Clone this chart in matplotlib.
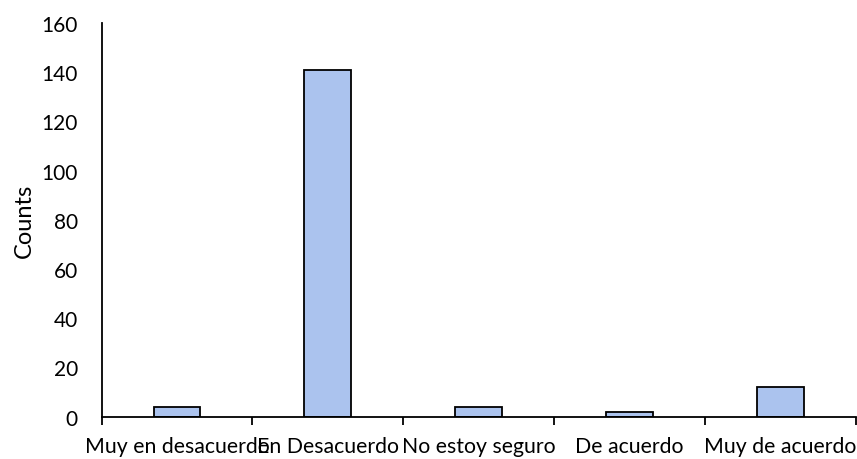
import matplotlib.pyplot as plt
import numpy as np

# Response categories and counts
categories = ["Muy en desacuerdo", "En Desacuerdo", "No estoy seguro", "De acuerdo", "Muy de acuerdo"]
counts = [4, 141, 4, 2, 12]
y_ticks = [0, 20, 40, 60, 80, 100, 120, 140, 160]

plt.rcParams["font.family"] = ["Lato", "DejaVu Sans"]

fig = plt.figure(figsize=(8.57, 4.6), dpi=100)
ax = fig.add_axes([0.1185, 0.092, 0.880, 0.856])

x = np.arange(len(categories))
ax.bar(x, counts, width=0.31, color="#abc3ee", edgecolor="black", linewidth=1.3)

ax.set_xlim(-0.5, len(categories) - 0.5)
ax.set_ylim(0, 160)
ax.set_yticks(y_ticks)
ax.tick_params(axis="y", length=0, labelsize=15, pad=17)

# category labels centred, tick marks on the category boundaries
ax.set_xticks(x)
ax.set_xticklabels(categories, fontsize=15.3)
ax.tick_params(axis="x", which="major", length=0, pad=14)
ax.set_xticks(np.arange(-0.5, len(categories)), minor=True)
ax.tick_params(axis="x", which="minor", length=6, width=1.3, direction="out")

for side in ["top", "right"]:
    ax.spines[side].set_visible(False)
ax.spines["left"].set_linewidth(1.3)
ax.spines["bottom"].set_linewidth(1.3)

ax.set_ylabel("Counts", fontsize=17)
ax.yaxis.set_label_coords(-0.088, 0.5)

fig.savefig("out.png", dpi=100)
